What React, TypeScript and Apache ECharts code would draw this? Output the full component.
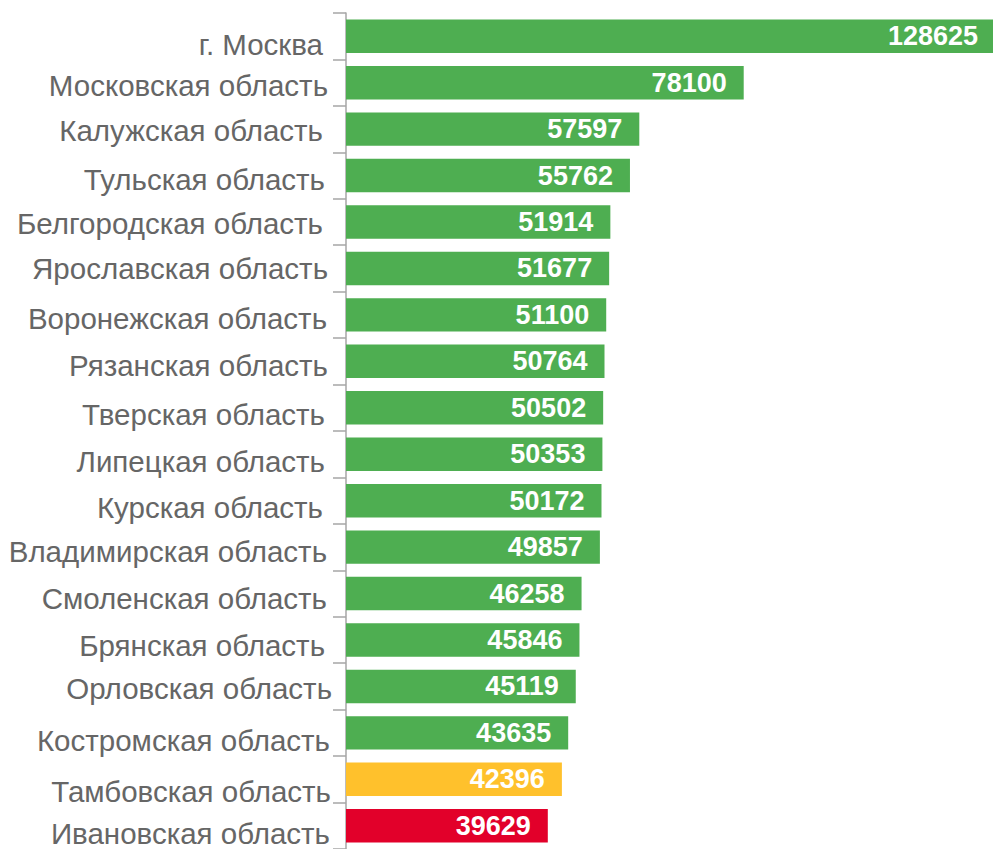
import React, { useEffect, useRef } from "react";
import * as echarts from "echarts";

const regions = [
  "г. Москва",
  "Московская область",
  "Калужская область",
  "Тульская область",
  "Белгородская область",
  "Ярославская область",
  "Воронежская область",
  "Рязанская область",
  "Тверская область",
  "Липецкая область",
  "Курская область",
  "Владимирская область",
  "Смоленская область",
  "Брянская область",
  "Орловская область",
  "Костромская область",
  "Тамбовская область",
  "Ивановская область",
];

const values = [
  128625, 78100, 57597, 55762, 51914, 51677, 51100, 50764, 50502, 50353, 50172,
  49857, 46258, 45846, 45119, 43635, 42396, 39629,
];

// small per-label nudges (px) seen in the source picture
const labelShiftDown = [8, 2.5, 1.5, 3.5, 1.5, 0.5, 4, 4, 7, 7, 6.5, 4, 5, 5.5, 2, 8, 12, 7.5];
const labelRightEdge = [323, 328, 323, 325, 323, 328, 327, 328, 325, 325, 323, 327, 327, 325, 332, 330, 331, 330];

const GREEN = "#4EAE51";
const YELLOW = "#FFC12C";
const RED = "#E2002A";
const barColors = values.map((_, i) =>
  i === regions.length - 2 ? YELLOW : i === regions.length - 1 ? RED : GREEN
);

const AXIS_X = 346;
const LABEL_MARGIN = 14;
const LABEL_FONT = "Liberation Sans, Arial, sans-serif";

export default function App() {
  const ref = useRef<HTMLDivElement>(null);
  useEffect(() => {
    if (!ref.current) return;
    const chart = echarts.init(ref.current, null, { renderer: "svg" });
    const baseRight = AXIS_X - LABEL_MARGIN;
    const rich: Record<string, any> = {
      t: { color: "#666666", fontFamily: LABEL_FONT, fontSize: 29.5, lineHeight: 34 },
    };
    labelShiftDown.forEach((d, i) => {
      rich["s" + i] = { fontSize: 1, lineHeight: Math.max(1, Math.abs(d) * 2) };
    });
    chart.setOption({
      animation: false,
      grid: { left: AXIS_X, top: 13, width: 662, height: 841.7, containLabel: false },
      xAxis: {
        type: "value",
        min: 0,
        max: 130000,
        show: false,
      },
      yAxis: {
        type: "category",
        inverse: true,
        data: regions.map((name, i) => ({
          value: name,
          textStyle: {
            padding: [0, Math.max(0, baseRight - labelRightEdge[i]), 0, 0],
          },
        })),
        axisLine: { show: true, lineStyle: { color: "#A6A6A6", width: 1.5 } },
        axisTick: { show: true, length: 13, lineStyle: { color: "#A6A6A6", width: 1.5 } },
        axisLabel: {
          margin: LABEL_MARGIN,
          color: "#666666",
          fontFamily: LABEL_FONT,
          fontSize: 29.5,
          rich,
          formatter: (value: string, index: number) => {
            const d = labelShiftDown[index] || 0;
            if (d > 0) return `{s${index}| }\n{t|${value}}`;
            if (d < 0) return `{t|${value}}\n{s${index}| }`;
            return `{t|${value}}`;
          },
        },
        splitLine: { show: false },
      },
      series: [
        {
          type: "bar",
          barCategoryGap: "28%",
          data: values.map((v, i) => ({
            value: v,
            itemStyle: { color: barColors[i] },
            label: i === 0 ? { distance: 23 } : undefined,
          })),
          label: {
            show: true,
            position: "insideRight",
            distance: 17,
            color: "#FFFFFF",
            fontWeight: "bold",
            fontFamily: LABEL_FONT,
            fontSize: 27,
          },
        },
      ],
    });
    return () => chart.dispose();
  }, []);
  return (
    <div
      style={{
        position: "fixed",
        left: 0,
        top: 0,
        width: 993,
        height: 849,
        overflow: "hidden",
        background: "#fff",
      }}
    >
      <div ref={ref} style={{ width: 1010, height: 849 }} />
    </div>
  );
}
